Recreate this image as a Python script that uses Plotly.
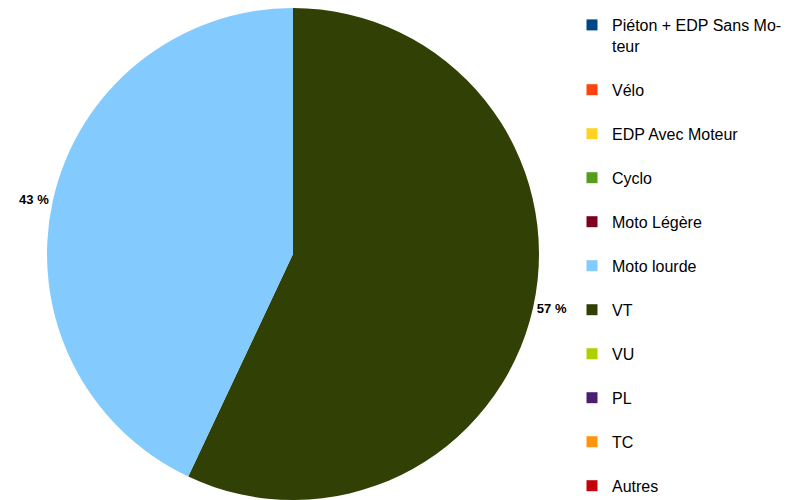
import plotly.graph_objects as go

labels = ["Piéton + EDP Sans Mo-<br>teur", "Vélo", "EDP Avec Moteur", "Cyclo", "Moto Légère",
          "Moto lourde", "VT", "VU", "PL", "TC", "Autres"]
values = [0, 0, 0, 0, 0, 43, 57, 0, 0, 0, 0]
colors = ["#004586", "#ff420e", "#ffd320", "#579d1c", "#7e0021",
          "#83caff", "#314004", "#aecf00", "#4b1f6f", "#ff950e", "#c5000b"]

# slices drawn from 12 o'clock, VT first going clockwise
pie_idx = [i for i, v in enumerate(values) if v > 0][::-1]
pie_labels = [labels[i] for i in pie_idx]
pie_values = [values[i] for i in pie_idx]
pie_colors = [colors[i] for i in pie_idx]
pie_text = [f"{v} %" for v in pie_values]

fig = go.Figure()
fig.add_trace(go.Pie(
    labels=pie_labels, values=pie_values, sort=False, direction="clockwise",
    rotation=0, marker=dict(colors=pie_colors, line=dict(width=0)),
    text=pie_text, textinfo="text", textposition="outside",
    textfont=dict(family="Liberation Sans", size=13, color="#000000", weight="bold"),
    showlegend=False, hoverinfo="label+percent",
    domain=dict(x=[0, 570/811], y=[0.016, 1.0]),
))

for l, c in zip(labels, colors):
    fig.add_trace(go.Scatter(
        x=[None], y=[None], mode="markers", name=l, legendgroup=l,
        marker=dict(symbol="square", size=11, color=c), showlegend=True,
    ))

fig.update_layout(
    width=811, height=500,
    margin=dict(l=0, r=0, t=0, b=0, autoexpand=False),
    paper_bgcolor="white", plot_bgcolor="white",
    xaxis=dict(visible=False), yaxis=dict(visible=False),
    font=dict(family="Liberation Sans", size=16, color="#000000"),
    legend=dict(x=564/811, y=1.0, xref="container", yref="container",
                xanchor="left", yanchor="top", valign="top", maxheight=600,
                tracegroupgap=20.2, font=dict(size=16), traceorder="grouped",
                bgcolor="rgba(0,0,0,0)"),
)

fig.write_html("out.html")
